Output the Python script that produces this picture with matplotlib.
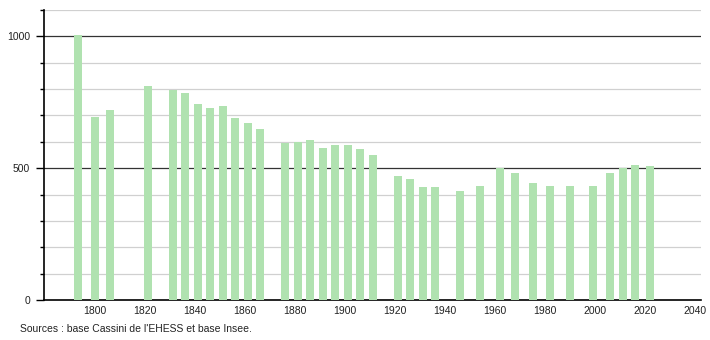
import matplotlib.pyplot as plt
from matplotlib.ticker import MultipleLocator

plt.rcParams['font.family'] = ['Liberation Sans', 'DejaVu Sans']

# recensements
years = [1793, 1800, 1806, 1821, 1831, 1836, 1841, 1846, 1851, 1856, 1861, 1866,
         1876, 1881, 1886, 1891, 1896, 1901, 1906, 1911, 1921, 1926, 1931, 1936,
         1946, 1954, 1962, 1968, 1975, 1982, 1990, 1999, 2006, 2011, 2016, 2022]
population = [1004, 693, 720, 811, 797, 787, 743, 728, 735, 690, 673, 648,
              594, 601, 606, 575, 587, 587, 571, 550, 469, 458, 429, 427,
              415, 434, 499, 480, 444, 432, 434, 434, 480, 500, 513, 510]
x_ticks = [1800, 1820, 1840, 1860, 1880, 1900, 1920, 1940, 1960, 1980, 2000, 2020, 2040]
y_ticks = [0, 500, 1000]

fig = plt.figure(figsize=(7.1, 3.4), dpi=100)
ax = fig.add_axes([44 / 710, 40 / 340, 657 / 710, 290 / 340])

ax.bar(years, population, width=3.2, color='#b0e2b0', zorder=3)

ax.set_xlim(1779.6, 2042.4)
ax.set_ylim(0, 1100)

# grille
for v in range(100, 1101, 100):
    if v % 500 == 0:
        ax.axhline(v, color='#333333', lw=0.9, zorder=1)
    else:
        ax.axhline(v, color='#d0d0d0', lw=0.9, zorder=1)

ax.set_yticks(y_ticks)
ax.yaxis.set_minor_locator(MultipleLocator(100))
ax.tick_params(axis='y', which='major', length=6, width=1, pad=4, labelsize=7.5,
               labelcolor='#222222')
ax.tick_params(axis='y', which='minor', length=3, width=1)
ax.set_xticks(x_ticks)
ax.tick_params(axis='x', length=0, pad=4, labelsize=7.5, labelcolor='#222222')

for s in ['top', 'right']:
    ax.spines[s].set_visible(False)
ax.spines['left'].set_linewidth(1.2)
ax.spines['bottom'].set_linewidth(1.2)

fig.text(20 / 710, 1 - 329 / 340, "Sources : base Cassini de l'EHESS et base Insee.",
         fontsize=7.5, va='center', ha='left', color='#222222')

plt.savefig('out.png', dpi=100)
plt.close()
